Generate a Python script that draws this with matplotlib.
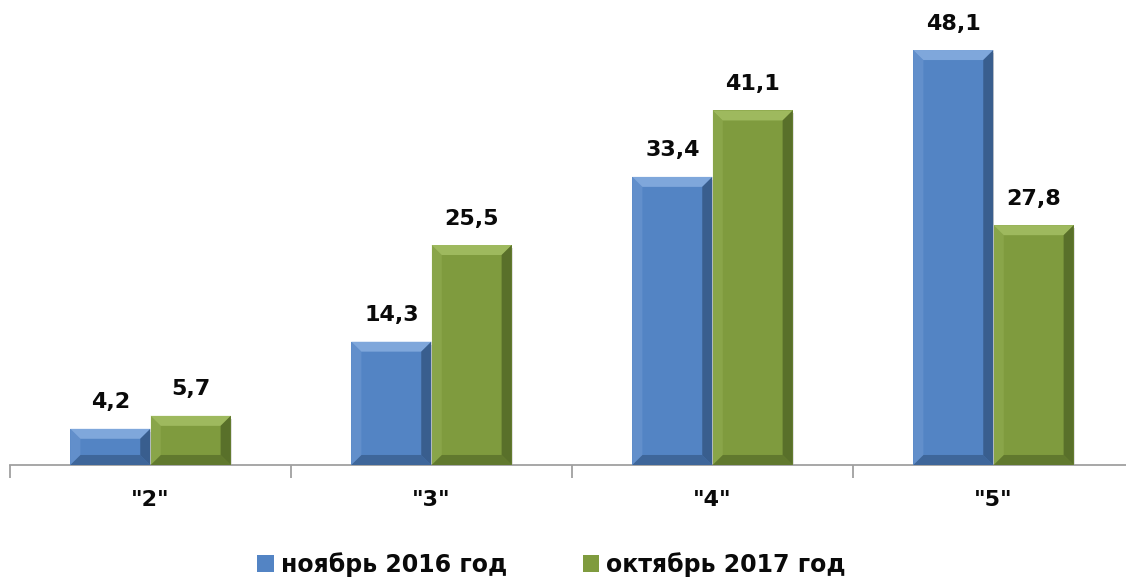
import matplotlib.pyplot as plt
from matplotlib.patches import Polygon, Rectangle
import numpy as np

categories = ['"2"', '"3"', '"4"', '"5"']
nov2016 = [4.2, 14.3, 33.4, 48.1]
oct2017 = [5.7, 25.5, 41.1, 27.8]
series_names = ['ноябрь 2016 год', 'октябрь 2017 год']

blue = '#5384C4'
green = '#7F9B3E'
blue_light = '#8FB3E3'
blue_dark = '#2E4E78'
green_light = '#A9C46A'
green_dark = '#4A5E22'

plt.rcParams['font.family'] = ['DejaVu Sans']

fig = plt.figure(figsize=(11.26, 5.82), dpi=100)
ax = fig.add_axes([10 / 1126, 117 / 582, 1124 / 1126, 465 / 582])

x = np.arange(len(categories))
w = 0.285
off = 0.143


def bevel(ax, bar, light, dark):
    x0 = bar.get_x()
    bw = bar.get_width()
    h = bar.get_height()
    bx = 0.036
    by = min(1.16, h * 0.3)
    x1 = x0 + bw
    # top bevel
    ax.add_patch(Polygon([(x0, h), (x1, h), (x1 - bx, h - by), (x0 + bx, h - by)],
                         closed=True, facecolor=light, edgecolor='none', alpha=0.75, zorder=4))
    # right bevel
    ax.add_patch(Polygon([(x1, h), (x1, 0), (x1 - bx, by), (x1 - bx, h - by)],
                         closed=True, facecolor=dark, edgecolor='none', alpha=0.7, zorder=4))
    # bottom bevel
    ax.add_patch(Polygon([(x0, 0), (x1, 0), (x1 - bx, by), (x0 + bx, by)],
                         closed=True, facecolor=dark, edgecolor='none', alpha=0.55, zorder=4))
    # left bevel
    ax.add_patch(Polygon([(x0, 0), (x0, h), (x0 + bx, h - by), (x0 + bx, by)],
                         closed=True, facecolor=light, edgecolor='none', alpha=0.25, zorder=4))
    # soft shadow
    ax.add_patch(Rectangle((x0 + 0.004, -0.35), bw, h, facecolor='#000000',
                           alpha=0.12, edgecolor='none', zorder=2))


b1 = ax.bar(x - off, nov2016, w, color=blue, label=series_names[0], zorder=3)
b2 = ax.bar(x + off, oct2017, w, color=green, label=series_names[1], zorder=3)

for bar in b1:
    bevel(ax, bar, blue_light, blue_dark)
for bar in b2:
    bevel(ax, bar, green_light, green_dark)

for bars in (b1, b2):
    for bar in bars:
        h = bar.get_height()
        ax.text(bar.get_x() + bar.get_width() / 2, h + 1.9, f'{h:.1f}'.replace('.', ','),
                ha='center', va='bottom', fontsize=16, fontweight='bold', color='#0a0a0a')

ax.set_xlim(-0.5, len(categories) - 0.5)
ax.set_ylim(0, 53.9)

for s in ['top', 'right', 'left']:
    ax.spines[s].set_visible(False)
ax.spines['bottom'].set_color('#A0A0A0')
ax.spines['bottom'].set_linewidth(1.3)
ax.set_yticks([])

ax.set_xticks(x)
ax.set_xticklabels(categories, fontsize=16, fontweight='bold', color='#0a0a0a')
ax.tick_params(axis='x', which='major', length=0, pad=18)
ax.set_xticks(np.arange(-0.5, len(categories)), minor=True)
ax.tick_params(axis='x', which='minor', length=9, width=1.3, color='#A0A0A0')

leg = fig.legend(handles=[b1, b2], labels=series_names, loc='center', bbox_to_anchor=(0.49, 0.03),
                 ncol=2, frameon=False, prop={'size': 17, 'weight': 'bold'},
                 handlelength=0.7, handleheight=0.7, handletextpad=0.3, columnspacing=3.2)
for t in leg.get_texts():
    t.set_color('#0a0a0a')

fig.savefig('out.png', dpi=100)
